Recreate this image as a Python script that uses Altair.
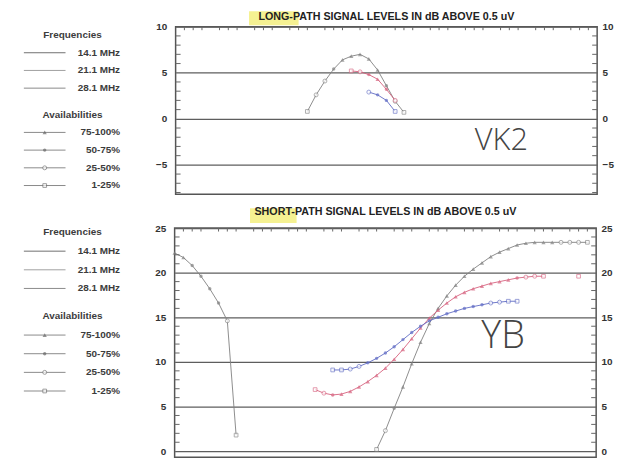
import altair as alt
import pandas as pd

# ---------------- data ----------------
FREQS = ["14.1 MHz", "21.1 MHz", "28.1 MHz"]
AVAILS = ["75-100%", "50-75%", "25-50%", "1-25%"]

TITLE_LP = ["LONG-PATH SIGNAL LEVELS IN dB ABOVE 0.5 uV"]
TITLE_SP = ["SHORT-PATH SIGNAL LEVELS IN dB ABOVE 0.5 uV"]

GRID_HOURS = [0, 2, 4, 6, 8, 10, 12, 14, 16, 18, 20, 22, 24]
LP_TICKS = [-5, 0, 5, 10]
SP_TICKS = [0, 5, 10, 15, 20, 25]

# Long path (hour UTC, dB, availability class index into AVAILS)
LP14_H = [7.5, 8.0, 8.5, 9.0, 9.5, 10.0, 10.5, 11.0, 11.5, 12.0, 12.5, 13.0]
LP14_DB = [0.8, 2.6, 4.1, 5.4, 6.4, 6.8, 7.0, 6.5, 5.3, 3.6, 1.9, 0.7]
LP14_AV = [3, 2, 2, 1, 0, 0, 0, 0, 0, 1, 2, 3]

LP21_H = [10.0, 10.5, 11.0, 11.5, 12.0, 12.5]
LP21_DB = [5.2, 5.1, 4.8, 4.3, 3.2, 2.0]
LP21_AV = [3, 2, 1, 0, 1, 2]

LP28_H = [11.0, 11.5, 12.0, 12.5]
LP28_DB = [2.9, 2.6, 2.0, 0.8]
LP28_AV = [2, 1, 1, 3]

# Short path
SP14A_H = [0.0, 0.5, 1.0, 1.5, 2.0, 2.5, 3.0, 3.5]
SP14A_DB = [22.2, 21.7, 20.8, 19.6, 18.2, 16.6, 14.6, 1.8]
SP14A_AV = [0, 0, 1, 1, 1, 1, 2, 3]

SP14B_H = [11.5, 12.0, 12.5, 13.0, 13.5, 14.0, 14.5, 15.0, 15.5, 16.0, 16.5, 17.0,
           17.5, 18.0, 18.5, 19.0, 19.5, 20.0, 20.5, 21.0, 21.5, 22.0, 22.5, 23.0, 23.5]
SP14B_DB = [0.2, 2.3, 4.8, 7.2, 9.8, 12.2, 14.3, 16.0, 17.4, 18.6, 19.6, 20.4,
            21.1, 21.8, 22.3, 22.7, 23.1, 23.3, 23.4, 23.4, 23.4, 23.4, 23.4, 23.4, 23.4]
SP14B_AV = [3, 2, 1, 0, 0, 0, 0, 0, 0, 0, 0, 0,
            0, 0, 0, 0, 0, 0, 0, 0, 0, 2, 2, 2, 3]

SP21A_H = [8.0, 8.5, 9.0, 9.5, 10.0, 10.5, 11.0, 11.5, 12.0, 12.5, 13.0, 13.5, 14.0,
           14.5, 15.0, 15.5, 16.0, 16.5, 17.0, 17.5, 18.0, 18.5, 19.0, 19.5, 20.0, 20.5, 21.0]
SP21A_DB = [6.9, 6.5, 6.3, 6.4, 6.7, 7.2, 7.8, 8.5, 9.3, 10.3, 11.4, 12.6, 13.8,
            14.9, 15.8, 16.6, 17.3, 17.8, 18.2, 18.5, 18.8, 19.0, 19.2, 19.4, 19.5, 19.6, 19.6]
SP21A_AV = [3, 2, 1, 0, 0, 0, 0, 0, 0, 0, 0, 0, 0,
            0, 0, 0, 0, 0, 0, 0, 0, 0, 0, 1, 2, 2, 3]
SP21B_H = [23.0]
SP21B_DB = [19.6]
SP21B_AV = [3]

SP28_H = [9.0, 9.5, 10.0, 10.5, 11.0, 11.5, 12.0, 12.5, 13.0, 13.5, 14.0,
          14.5, 15.0, 15.5, 16.0, 16.5, 17.0, 17.5, 18.0, 18.5, 19.0, 19.5]
SP28_DB = [9.1, 9.1, 9.2, 9.5, 9.9, 10.4, 11.0, 11.7, 12.5, 13.3, 14.0,
           14.6, 15.0, 15.4, 15.7, 16.0, 16.2, 16.4, 16.6, 16.7, 16.8, 16.8]
SP28_AV = [3, 3, 2, 2, 1, 1, 1, 1, 1, 1, 1,
           1, 1, 1, 1, 1, 1, 1, 2, 2, 3, 3]

# handwritten notes
NOTE_LP_TEXT = ["VK2"]
NOTE_LP_H = [18.55]
NOTE_LP_DB = [-2.4]
NOTE_SP_TEXT = ["YB"]
NOTE_SP_H = [18.7]
NOTE_SP_DB = [12.8]

# ---------------- styles ----------------
FONT = "Liberation Sans"
COLORS = ["#808080", "#d6617e", "#5f6bc4"]
LEG_SHADES = ["#6f6f6f", "#a0a0a0", "#8a8a8a"]
TICK_COLOR = "#666666"
W = 425
MARKERS = {
    "75-100%": dict(shape="triangle-up", filled=True, size=18),
    "50-75%": dict(shape="circle", filled=True, size=12),
    "25-50%": dict(shape="circle", filled=False, fill="white", size=16),
    "1-25%": dict(shape="square", filled=False, fill="white", size=14),
}
MINOR_HOURS = [k / 2 for k in range(1, 48) if k % 4 != 0]


def series(freq, seg, hours, dbs, avs):
    return pd.DataFrame({
        "h": hours, "db": dbs, "freq": freq, "seg": f"{freq}-{seg}",
        "av": [AVAILS[i] for i in avs],
    })


lp_df = pd.concat([
    series(FREQS[0], 1, LP14_H, LP14_DB, LP14_AV),
    series(FREQS[1], 1, LP21_H, LP21_DB, LP21_AV),
    series(FREQS[2], 1, LP28_H, LP28_DB, LP28_AV),
], ignore_index=True)

sp_df = pd.concat([
    series(FREQS[0], 1, SP14A_H, SP14A_DB, SP14A_AV),
    series(FREQS[0], 2, SP14B_H, SP14B_DB, SP14B_AV),
    series(FREQS[1], 1, SP21A_H, SP21A_DB, SP21A_AV),
    series(FREQS[1], 2, SP21B_H, SP21B_DB, SP21B_AV),
    series(FREQS[2], 1, SP28_H, SP28_DB, SP28_AV),
], ignore_index=True)


def panel(df, title, title_y, ydom, yticks, H, notes, note_size, hl):
    xs = alt.Scale(domain=[0, 24], nice=False, zero=False)
    ys = alt.Scale(domain=ydom, nice=False, zero=False)
    color = alt.Color("freq:N", scale=alt.Scale(domain=FREQS, range=COLORS), legend=None)
    base = alt.Chart(df)
    lines = base.mark_line(strokeWidth=1, opacity=0.9).encode(
        x=alt.X("h:Q", scale=xs, axis=alt.Axis(values=GRID_HOURS, grid=True, labels=False,
                                               ticks=False, domain=False, title=None)),
        y=alt.Y("db:Q", scale=ys, axis=alt.Axis(orient="left", values=yticks, grid=True,
                                                ticks=False, domain=False, title=None,
                                                labelPadding=9)),
        color=color, detail="seg:N",
    )
    pts = [
        base.transform_filter(alt.datum.av == a).mark_point(strokeWidth=0.9, **MARKERS[a]).encode(
            x=alt.X("h:Q", scale=xs, axis=None),
            y=alt.Y("db:Q", scale=ys, axis=None),
            color=color,
        )
        for a in AVAILS
    ]
    lo, hi = ydom
    minor_db = [v for v in range(int(lo), int(hi) + 1) if v % 5 != 0 and lo < v < hi]
    top_ticks = alt.Chart(pd.DataFrame({"h": MINOR_HOURS})).mark_rule(
        color=TICK_COLOR, strokeWidth=1).encode(
        x=alt.X("h:Q", scale=xs, axis=None), y=alt.value(0), y2=alt.value(3.5))
    left_ticks = alt.Chart(pd.DataFrame({"db": minor_db})).mark_rule(
        color=TICK_COLOR, strokeWidth=1).encode(
        y=alt.Y("db:Q", scale=ys, axis=None), x=alt.value(0), x2=alt.value(5))
    right_ticks = alt.Chart(pd.DataFrame({"db": minor_db})).mark_rule(
        color=TICK_COLOR, strokeWidth=1).encode(
        y=alt.Y("db:Q", scale=ys, axis=alt.Axis(orient="right", values=yticks, grid=False,
                                                ticks=False, domain=False, title=None,
                                                labelPadding=5)),
        x=alt.value(W - 5), x2=alt.value(W))
    highlight = alt.Chart(pd.DataFrame({"k": [0]})).mark_rect(
        color="#f4ef86", opacity=0.9).encode(
        x=alt.value(hl[0]), x2=alt.value(hl[1]), y=alt.value(hl[2]), y2=alt.value(hl[3]))
    title_mark = alt.Chart(pd.DataFrame({"t": title})).mark_text(
        font=FONT, fontSize=10.8, fontWeight="bold", color="#222222",
        align="center", baseline="middle").encode(
        x=alt.value(W / 2), y=alt.value(title_y), text="t:N")
    note = alt.Chart(pd.DataFrame(notes)).mark_text(
        font="Open Sans", fontWeight=300, fontSize=note_size, color="#444444",
        align="center", baseline="middle").encode(
        x=alt.X("h:Q", scale=xs, axis=None), y=alt.Y("db:Q", scale=ys, axis=None), text="t:N")
    return alt.layer(highlight, title_mark, lines, *pts, top_ticks, left_ticks,
                     right_ticks, note).properties(width=W, height=H)


def legend(H, off, sp):
    ys = alt.Scale(domain=[-off / sp, (H - off) / sp], reverse=True, nice=False, zero=False)
    y = alt.Y("row:Q", scale=ys, axis=None)
    hdr = pd.DataFrame({"label": ["Frequencies", "Availabilities"], "row": [0, 4.5]})
    fr = pd.DataFrame({"label": FREQS, "row": [1, 2, 3]})
    av = pd.DataFrame({"label": AVAILS, "row": [5.5, 6.5, 7.5, 8.5]})
    txt = dict(font=FONT, fontSize=10, fontWeight="bold", color="#3c3c3c", baseline="middle")
    layers = [
        alt.Chart(hdr).mark_text(align="center", **txt).encode(x=alt.value(64), y=y, text="label:N"),
        alt.Chart(fr).mark_text(align="right", **txt).encode(x=alt.value(112), y=y, text="label:N"),
        alt.Chart(av).mark_rule(color="#8a8a8a", strokeWidth=1).encode(
            x=alt.value(15), x2=alt.value(57), y=y),
    ]
    for f, shade in zip(FREQS, LEG_SHADES):
        layers.append(
            alt.Chart(fr).transform_filter(alt.datum.label == f).mark_rule(
                color=shade, strokeWidth=1).encode(x=alt.value(15), x2=alt.value(57), y=y))
    for a in AVAILS:
        layers.append(
            alt.Chart(av).transform_filter(alt.datum.label == a).mark_point(
                color="#666666", strokeWidth=0.9, **MARKERS[a]).encode(x=alt.value(36), y=y))
    layers.append(alt.Chart(av).mark_text(align="right", **txt).encode(
        x=alt.value(112), y=y, text="label:N"))
    return alt.layer(*layers).properties(
        width=145, height=H, view=alt.ViewBackground(stroke="transparent"))


H_TOP, H_BOT = 169, 231
top_row = alt.hconcat(
    legend(H_TOP, 8.4, 17.85),
    panel(lp_df, TITLE_LP, -10, [-8.2, 10], LP_TICKS, H_TOP,
          {"t": NOTE_LP_TEXT, "h": NOTE_LP_H, "db": NOTE_LP_DB}, 31, (74, 124, -15.5, -1.5)),
    spacing=0,
)
bot_row = alt.hconcat(
    legend(H_BOT, 4.5, 18.8),
    panel(sp_df, TITLE_SP, -16.3, [-0.67, 25], SP_TICKS, H_BOT,
          {"t": NOTE_SP_TEXT, "h": NOTE_SP_H, "db": NOTE_SP_DB}, 38, (76, 123, -20, -5)),
    spacing=0,
)

chart = alt.vconcat(top_row, bot_row, spacing=9).properties(
    padding=0, background="white"
).configure(font=FONT).configure_view(
    stroke="#555555", strokeWidth=1.5
).configure_axis(
    labelFont=FONT, labelFontSize=10, labelFontWeight="bold", labelColor="#333333",
    gridColor="#5e5e5e", gridWidth=1.2, gridOpacity=1,
)

chart.save("out.html", embed_options={"renderer": "svg", "actions": False})
